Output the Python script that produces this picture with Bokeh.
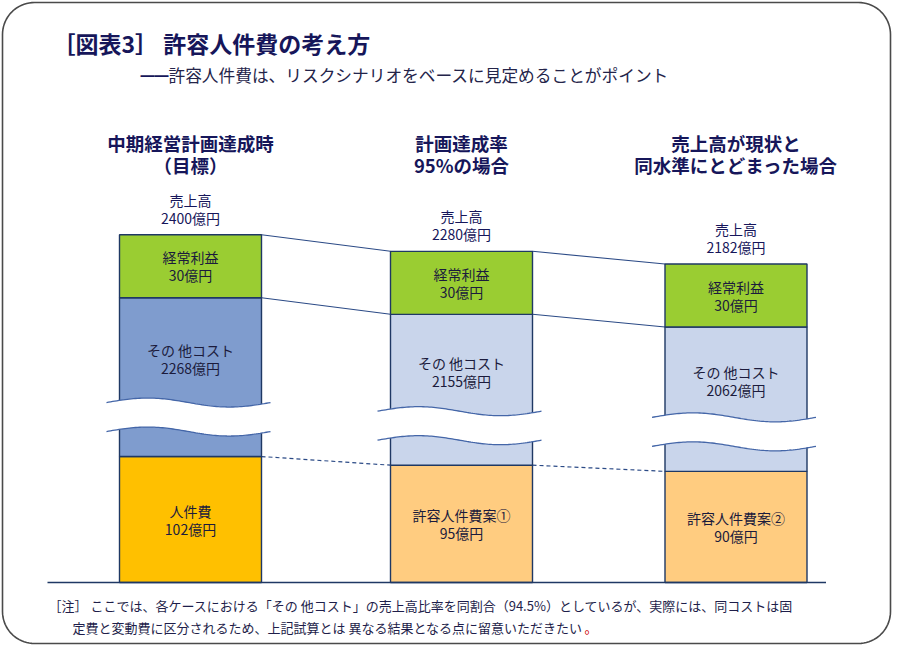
import numpy as np
from bokeh.plotting import figure
from bokeh.models import Range1d, ColumnDataSource
from bokeh.core.properties import value
from bokeh.embed import file_html
from bokeh.resources import INLINE

# ---------------- data ----------------
title_text = "［図表3］ 許容人件費の考え方"
subtitle_text = "許容人件費は、リスクシナリオをベースに見定めることがポイント"
case_line1 = ["中期経営計画達成時", "計画達成率", "売上高が現状と"]
case_line2 = ["（目標）", "95%の場合", "同水準にとどまった場合"]
sales = [2400, 2280, 2182]
profit = [30, 30, 30]
other_cost = [2268, 2155, 2062]
labor_cost = [102, 95, 90]
labor_names = ["人件費", "許容人件費案①", "許容人件費案②"]
profit_name = "経常利益"
other_name = "その 他コスト"
sales_name = "売上高"
unit = "億円"
note_line1 = "［注］ ここでは、各ケースにおける「その 他コスト」の売上高比率を同割合（94.5%）としているが、実際には、同コストは固"
note_line2 = "定費と変動費に区分されるため、上記試算とは 異なる結果となる点に留意いただきたい"
note_end = "。"

# ---------------- layout / style ----------------
FONT = "Noto Sans CJK JP"
W, H = 892, 645
BASE = 582  # baseline distance from top of figure
centers = np.array([190.0, 461.0, 735.5])
bar_w = 142.0
# schematic (broken-axis) scales, px per 億円, for each layer
k_labor, k_other, k_profit = 1.235, 0.07, 2.1
labor_colors = ["#FFC000", "#FFCC80", "#FFCC80"]
other_colors = ["#7F9CCE", "#C9D5EB", "#C9D5EB"]
profit_color = "#9ACD32"
edge = "#1F3864"
navy = "#16165A"
txt = "#1B1B3C"

labor = np.array(labor_cost, float)
other = np.array(other_cost, float)
prof = np.array(profit, float)
y1 = labor * k_labor
y2 = y1 + other * k_other
y3 = y2 + prof * k_profit
left = centers - bar_w / 2
right = centers + bar_w / 2

p = figure(width=W, height=H, output_backend="svg", toolbar_location=None,
           x_range=Range1d(0, W), y_range=Range1d(BASE - H, BASE),
           min_border=0, tools="")
p.axis.visible = False
p.grid.visible = False
p.outline_line_color = None
p.background_fill_color = "white"
p.border_fill_color = "white"

# rounded frame
r = 32.0
fx0, fx1, fy0, fy1 = 2.0, W - 2.0, BASE - H + 2.0, BASE - 2.0
th = np.linspace(0, np.pi / 2, 20)
fx = np.concatenate([fx1 - r + r * np.cos(th), fx0 + r - r * np.sin(th),
                     fx0 + r - r * np.cos(th), fx1 - r + r * np.sin(th), [fx1]])
fy = np.concatenate([fy1 - r + r * np.sin(th), fy1 - r + r * np.cos(th),
                     fy0 + r - r * np.sin(th), fy0 + r - r * np.cos(th), [fy1 - r]])
p.line(fx, fy, line_color="#4A4A4A", line_width=1.6)

# connectors between columns
cx0 = right[:-1]
cx1 = left[1:]
p.segment(x0=np.r_[cx0, cx0], y0=np.r_[y3[:-1], y2[:-1]],
          x1=np.r_[cx1, cx1], y1=np.r_[y3[1:], y2[1:]],
          line_color="#2B4A86", line_width=1.1)
p.segment(x0=cx0, y0=y1[:-1], x1=cx1, y1=y1[1:],
          line_color="#2B4A86", line_width=1.2, line_dash="4 3")

# stacked bars
src = ColumnDataSource(dict(
    left=np.r_[left, left, left], right=np.r_[right, right, right],
    bottom=np.r_[np.zeros(3), y1, y2], top=np.r_[y1, y2, y3],
    color=labor_colors + other_colors + [profit_color] * 3))
p.quad(left="left", right="right", bottom="bottom", top="top", source=src,
       fill_color="color", line_color=edge, line_width=1.4)

# axis breaks
for i in range(3):
    xs = np.linspace(left[i] - 13, right[i] + 9, 80)
    t = (xs - xs[0]) / (xs[-1] - xs[0])
    w = 4.5 * np.sin(2 * np.pi * t)
    top = y1[i] + 54 + w
    bot = y1[i] + 25 + w
    p.patch(np.r_[xs, xs[::-1]], np.r_[top, bot[::-1]], fill_color="white",
            line_color=None)
    p.multi_line([xs, xs], [top, bot], line_color="#4466A8", line_width=1.3)

# baseline
p.segment(x0=[left[0] - 72], y0=[0], x1=[right[-1] + 19], y1=[0],
          line_color=edge, line_width=1.5)


def T(x, y, s, size, color=txt, align="center", bold=False):
    p.text(x=x, y=y, text=s, text_font=value(FONT),
           text_font_size=value(size), text_align=align,
           text_baseline="middle", text_color=color,
           text_font_style="bold" if bold else "normal")


def Y(screen_y):
    return BASE - screen_y


# titles
T([52], [Y(42)], [title_text], "23px", navy, "left", True)
T([140], [Y(74)], ["━━"], "14px", navy, "left")
T([168], [Y(74)], [subtitle_text], "16.7px", "#24244A", "left")

# column headers
T(centers, [Y(142)] * 3, case_line1, "18.5px", navy, bold=True)
T(centers, [Y(164)] * 3, case_line2, "18.5px", navy, bold=True)

# sales labels
T(centers, y3 + 35, [sales_name] * 3, "14px", navy)
T(centers, y3 + 17, [f"{v}{unit}" for v in sales], "14px", navy)

# profit labels
pm = (y2 + y3) / 2
T(centers, pm + 9, [profit_name] * 3, "14px")
T(centers, pm - 9, [f"{v}{unit}" for v in profit], "14px")

# other cost labels
om = (y2 + y1 + 54) / 2
T(centers, om, [other_name] * 3, "14px")
T(centers, om - 18, [f"{v}{unit}" for v in other_cost], "14px")

# labor labels
lm = y1 / 2
T(centers, lm + 9, labor_names, "14px")
T(centers, lm - 9, [f"{v}{unit}" for v in labor_cost], "14px")

# note
T([48], [Y(605)], [note_line1], "13px", "#1E1E4A", "left")
T([72], [Y(627)], [note_line2], "13px", "#1E1E4A", "left")
T([72 + 512], [Y(627)], [note_end], "13px", "#CC0000", "left")

open("out.html", "w").write(file_html(p, INLINE))
